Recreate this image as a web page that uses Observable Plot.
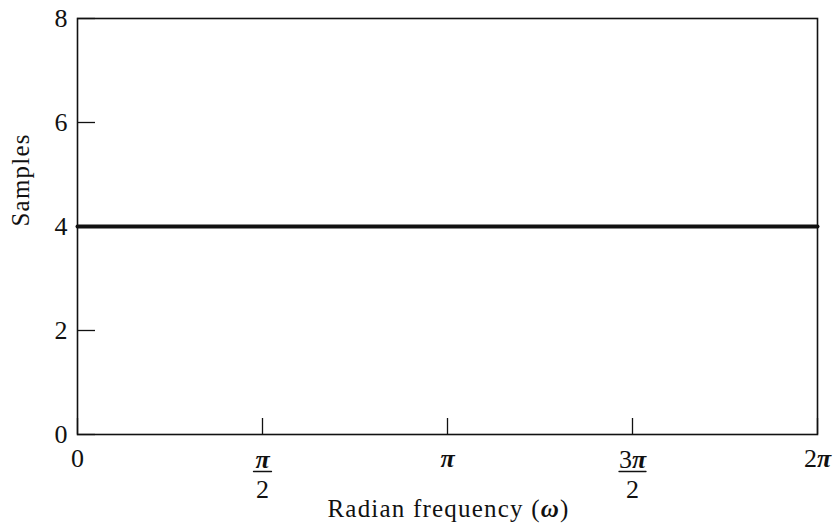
<!DOCTYPE html>
<html><head><meta charset="utf-8">
<script src="https://cdn.jsdelivr.net/npm/d3@7"></script>
<script src="https://cdn.jsdelivr.net/npm/@observablehq/plot@0.6"></script>
<style>body{margin:0;background:#fff}</style>
</head><body><div id="chart"></div>
<script>
// Data
const omega = [0, 2 * Math.PI];
const samples = [4, 4];
const yTicks = [0, 2, 4, 6, 8];
const xTicks = [0, Math.PI / 2, Math.PI, 3 * Math.PI / 2, 2 * Math.PI];
const xTickLabels = ["0", "π/2", "π", "3π/2", "2π"];
const xTitle = "Radian frequency (ω)";
const yTitle = "Samples";

const lineData = omega.map((w, i) => ({w, s: samples[i]}));
const labels = xTicks.map((v, i) => {
  const [num, den] = xTickLabels[i].split("/");
  return {v, num, den: den || null};
});
const wholes = labels.filter(d => !d.den);
const fracs = labels.filter(d => d.den);
const barShape = {draw(ctx, l) { ctx.moveTo(0, 0); ctx.lineTo(0, -l); }};
const font = "Liberation Serif, Times New Roman, serif";

const chart = Plot.plot({
  width: 838, height: 525,
  marginLeft: 77, marginRight: 21, marginTop: 18, marginBottom: 91,
  style: {fontFamily: font, fontSize: "22px", color: "#111", background: "#fff"},
  x: {domain: [0, 2 * Math.PI]},
  y: {domain: [0, 8]},
  marks: [
    Plot.frame({stroke: "#111", strokeWidth: 1.6}),
    Plot.axisY(yTicks, {tickSize: -18, tickPadding: 28, fontSize: 26, tickFormat: d => String(d), label: null, stroke: "#111", strokeWidth: 1.3}),
    Plot.axisX(xTicks, {tickSize: -16, tickFormat: () => "", label: null, stroke: "#111", strokeWidth: 1.3}),
    Plot.line(lineData, {x: "w", y: "s", stroke: "#111", strokeWidth: 4}),
    Plot.text(wholes, {x: "v", text: "num", frameAnchor: "bottom", dy: 24, fontSize: 26, lineAnchor: "middle"}),
    Plot.text(fracs, {x: "v", text: "num", frameAnchor: "bottom", dy: 25, fontSize: 26, lineAnchor: "middle"}),
    Plot.vector(fracs.filter(d => d.num.length === 1), {x: "v", frameAnchor: "bottom", dy: 37, rotate: 90, length: 18, anchor: "middle", shape: barShape, stroke: "#111", strokeWidth: 1.3}),
    Plot.vector(fracs.filter(d => d.num.length > 1), {x: "v", frameAnchor: "bottom", dy: 37, rotate: 90, length: 27, anchor: "middle", shape: barShape, stroke: "#111", strokeWidth: 1.3}),
    Plot.text(fracs, {x: "v", text: "den", frameAnchor: "bottom", dy: 55, fontSize: 26, lineAnchor: "middle"}),
    Plot.text([xTitle], {frameAnchor: "bottom", dy: 74, fontSize: 25, lineAnchor: "middle", dx: 1}),
    Plot.text([yTitle], {frameAnchor: "left", dx: -57, rotate: -90, fontSize: 25, lineAnchor: "middle"})
  ]
});
chart.querySelectorAll("text").forEach(t => {
  const s = t.textContent;
  if (s === xTitle || s === yTitle) t.setAttribute("letter-spacing", "1.2px");
  if (t.children.length === 0 && /[πω]/.test(s)) {
    t.innerHTML = s.replace(/([πω])/g, '<tspan font-style="italic" font-weight="bold">$1</tspan>');
  }
});
document.getElementById("chart").appendChild(chart);
</script>
</body></html>
